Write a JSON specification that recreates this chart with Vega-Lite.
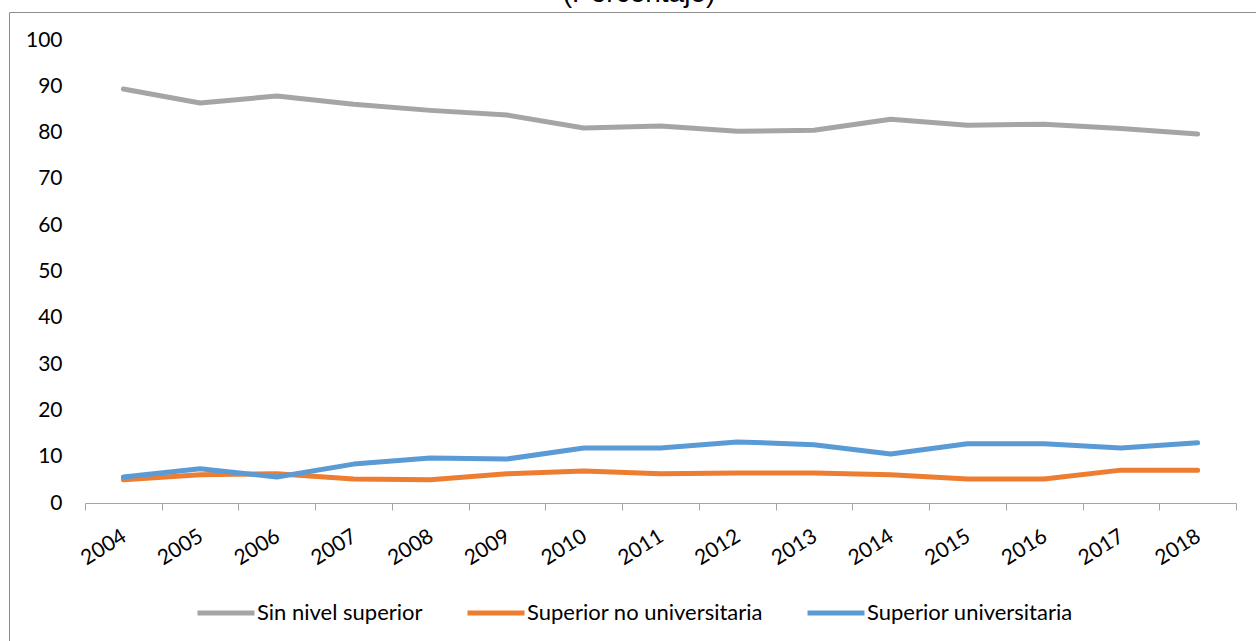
{
  "$schema": "https://vega.github.io/schema/vega-lite/v6.json",
  "width": 1260,
  "height": 630,
  "autosize": "none",
  "padding": {"left": 9, "top": 12, "right": 0, "bottom": 0},
  "background": "white",
  "title": {"text": "(Porcentaje)", "font": "Liberation Sans", "fontSize": 28, "fontWeight": "normal", "baseline": "alphabetic", "offset": -18, "anchor": "middle", "color": "#000000"},
  "config": {"view": {"stroke": "#8c8c8c", "strokeWidth": 1}},
  "data": {"values": [
    {"year": "2004", "serie": "Sin nivel superior", "value": 89.4},
    {"year": "2005", "serie": "Sin nivel superior", "value": 86.4},
    {"year": "2006", "serie": "Sin nivel superior", "value": 87.9},
    {"year": "2007", "serie": "Sin nivel superior", "value": 86.1},
    {"year": "2008", "serie": "Sin nivel superior", "value": 84.8},
    {"year": "2009", "serie": "Sin nivel superior", "value": 83.8},
    {"year": "2010", "serie": "Sin nivel superior", "value": 81.0},
    {"year": "2011", "serie": "Sin nivel superior", "value": 81.4},
    {"year": "2012", "serie": "Sin nivel superior", "value": 80.3},
    {"year": "2013", "serie": "Sin nivel superior", "value": 80.5},
    {"year": "2014", "serie": "Sin nivel superior", "value": 82.9},
    {"year": "2015", "serie": "Sin nivel superior", "value": 81.6},
    {"year": "2016", "serie": "Sin nivel superior", "value": 81.8},
    {"year": "2017", "serie": "Sin nivel superior", "value": 80.9},
    {"year": "2018", "serie": "Sin nivel superior", "value": 79.7},
    {"year": "2004", "serie": "Superior no universitaria", "value": 5.0},
    {"year": "2005", "serie": "Superior no universitaria", "value": 6.1},
    {"year": "2006", "serie": "Superior no universitaria", "value": 6.3},
    {"year": "2007", "serie": "Superior no universitaria", "value": 5.2},
    {"year": "2008", "serie": "Superior no universitaria", "value": 5.0},
    {"year": "2009", "serie": "Superior no universitaria", "value": 6.3},
    {"year": "2010", "serie": "Superior no universitaria", "value": 6.9},
    {"year": "2011", "serie": "Superior no universitaria", "value": 6.3},
    {"year": "2012", "serie": "Superior no universitaria", "value": 6.5},
    {"year": "2013", "serie": "Superior no universitaria", "value": 6.5},
    {"year": "2014", "serie": "Superior no universitaria", "value": 6.1},
    {"year": "2015", "serie": "Superior no universitaria", "value": 5.2},
    {"year": "2016", "serie": "Superior no universitaria", "value": 5.2},
    {"year": "2017", "serie": "Superior no universitaria", "value": 7.1},
    {"year": "2018", "serie": "Superior no universitaria", "value": 7.1},
    {"year": "2004", "serie": "Superior universitaria", "value": 5.6},
    {"year": "2005", "serie": "Superior universitaria", "value": 7.4},
    {"year": "2006", "serie": "Superior universitaria", "value": 5.6},
    {"year": "2007", "serie": "Superior universitaria", "value": 8.4},
    {"year": "2008", "serie": "Superior universitaria", "value": 9.7},
    {"year": "2009", "serie": "Superior universitaria", "value": 9.5},
    {"year": "2010", "serie": "Superior universitaria", "value": 11.9},
    {"year": "2011", "serie": "Superior universitaria", "value": 11.9},
    {"year": "2012", "serie": "Superior universitaria", "value": 13.2},
    {"year": "2013", "serie": "Superior universitaria", "value": 12.6},
    {"year": "2014", "serie": "Superior universitaria", "value": 10.6},
    {"year": "2015", "serie": "Superior universitaria", "value": 12.8},
    {"year": "2016", "serie": "Superior universitaria", "value": 12.8},
    {"year": "2017", "serie": "Superior universitaria", "value": 11.9},
    {"year": "2018", "serie": "Superior universitaria", "value": 13.0}
  ]},
  "mark": {"type": "line", "strokeWidth": 5, "strokeCap": "round", "strokeJoin": "round"},
  "encoding": {
    "x": {
      "field": "year", "type": "ordinal",
      "scale": {"type": "band", "paddingInner": 0, "paddingOuter": 0, "range": [76, 1227]},
      "axis": {"title": null, "tickBand": "extent", "labelAngle": -32, "labelAlign": "right", "labelBaseline": "top", "offset": -139, "domainColor": "#a6a6a6", "tickColor": "#a6a6a6", "tickSize": 7, "labelPadding": 15, "labelOffset": -5, "labelFont": "Lato", "labelFontSize": 21, "labelColor": "#000000", "grid": false}
    },
    "y": {
      "field": "value", "type": "quantitative",
      "scale": {"domain": [0, 100], "range": [491, 28]},
      "axis": {"title": null, "values": [0, 10, 20, 30, 40, 50, 60, 70, 80, 90, 100], "domain": false, "ticks": false, "grid": false, "offset": -76, "labelPadding": 23, "labelFont": "Lato", "labelFontSize": 21, "labelColor": "#000000"}
    },
    "color": {
      "field": "serie", "type": "nominal",
      "scale": {"domain": ["Sin nivel superior", "Superior no universitaria", "Superior universitaria"], "range": ["#A5A5A5", "#ED7D31", "#5B9BD5"]},
      "legend": {"title": null, "orient": "none", "legendX": 186, "legendY": 570, "direction": "horizontal", "symbolType": "stroke", "symbolSize": 3249, "symbolStrokeWidth": 5, "labelFont": "Lato", "labelFontSize": 22, "labelColor": "#000000", "labelLimit": 400, "labelOffset": 0, "columnPadding": 34, "padding": 0}
    }
  }
}
